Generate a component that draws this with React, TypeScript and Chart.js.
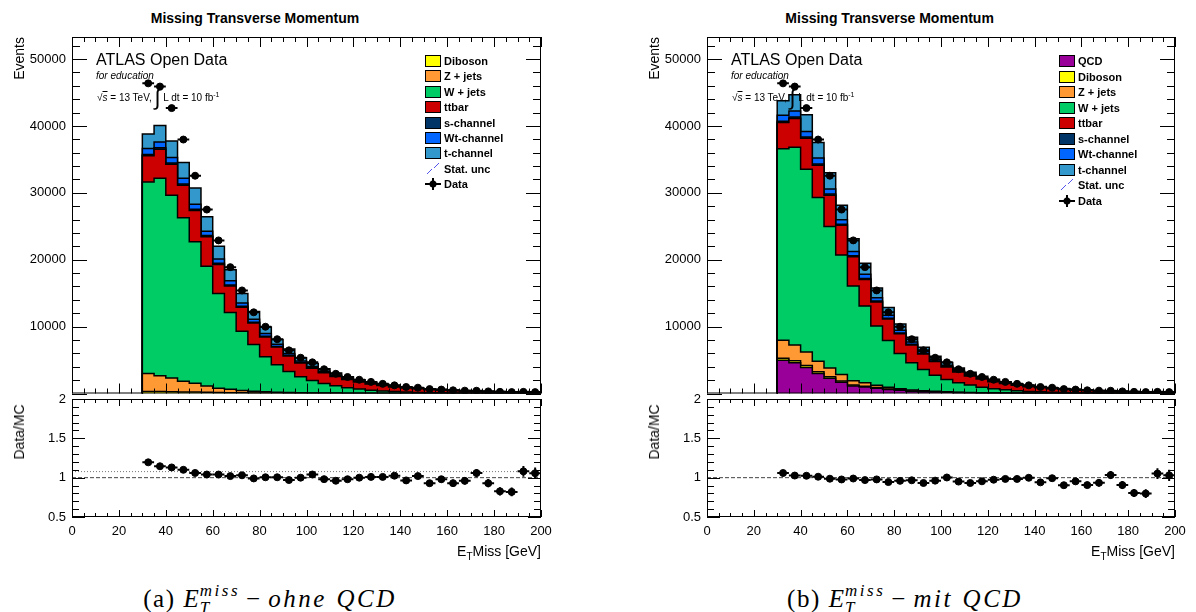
import React, { useEffect, useRef } from 'react';
import { Chart, registerables } from 'chart.js';

Chart.register(...registerables);

// ---------------- data ----------------
const binLow = [30, 35, 40, 45, 50, 55, 60, 65, 70, 75, 80, 85, 90, 95, 100, 105, 110, 115, 120, 125, 130, 135, 140, 145, 150, 155, 160, 165, 170, 175, 180, 185, 190, 195];
const binHalfWidth = 2.5;

const qcd = [4980, 4600, 3900, 3000, 2280, 1700, 1130, 970, 800, 600, 470, 320, 270, 210, 170, 120, 95, 70, 55, 45, 38, 32, 27, 23, 20, 17, 14, 12, 10, 9, 8, 7, 6, 5];
const diboson = [300, 290, 270, 240, 210, 180, 150, 130, 110, 90, 75, 60, 50, 40, 30, 25, 20, 18, 15, 12, 10, 9, 8, 7, 6, 5, 5, 4, 4, 3, 3, 3, 2, 2];
const zjets = [2700, 2370, 2050, 1580, 1310, 960, 630, 510, 330, 250, 175, 130, 100, 80, 60, 50, 40, 30, 25, 20, 18, 15, 12, 10, 9, 8, 7, 6, 5, 5, 4, 4, 3, 3];
const wjets = [28610, 29540, 27320, 24470, 21180, 17870, 14180, 11480, 8860, 7000, 5260, 4100, 3150, 2400, 1850, 1420, 1100, 830, 620, 470, 330, 260, 200, 150, 115, 90, 75, 62, 52, 44, 37, 31, 27, 23];
const ttbar = [3940, 4330, 4620, 4830, 4670, 4430, 4340, 3940, 3590, 3190, 2950, 2650, 2320, 2050, 1850, 1600, 1380, 1230, 1050, 930, 820, 695, 605, 525, 445, 382, 330, 287, 253, 222, 197, 171, 148, 128];
const schan = [190, 200, 190, 190, 190, 180, 170, 160, 150, 130, 115, 100, 88, 76, 66, 58, 50, 44, 38, 30, 27, 23, 20, 17, 15, 13, 11, 10, 9, 8, 7, 6, 5, 5];
const wtchan = [890, 890, 840, 890, 740, 650, 640, 640, 490, 440, 400, 330, 290, 220, 190, 170, 150, 118, 100, 85, 75, 63, 55, 48, 40, 34, 29, 26, 23, 20, 18, 15, 14, 12];
const tchan = [2170, 2460, 2470, 2320, 2420, 2170, 1900, 1660, 1430, 1160, 955, 710, 652, 484, 434, 377, 330, 250, 212, 173, 150, 125, 110, 93, 80, 68, 58, 50, 44, 38, 34, 30, 26, 22];
const dataCounts = [46370, 45890, 42670, 37970, 32560, 27500, 22890, 18890, 15410, 12140, 9980, 8120, 6450, 5350, 4660, 3630, 2950, 2470, 2060, 1737, 1444, 1220, 975, 867, 660, 588, 479, 427, 413, 316, 248, 213, 243, 206];

const xTicks = [0, 20, 40, 60, 80, 100, 120, 140, 160, 180, 200];
const mainYTicks = [10000, 20000, 30000, 40000, 50000];
const ratioYTicks = [0.5, 1, 1.5, 2];
const ratioRefLeft = [1, 1.077];
const ratioRefRight = [1];

const X_MIN = 0, X_MAX = 200;
const MAIN_Y_MAX = 53300;
const RATIO_MIN = 0.5, RATIO_MAX = 2;

const COLORS: Record<string, string> = {
  QCD: '#990099',
  Diboson: '#FFFF00',
  'Z + jets': '#FF9933',
  'W + jets': '#00CC66',
  ttbar: '#CC0000',
  's-channel': '#003366',
  'Wt-channel': '#0066FF',
  't-channel': '#3399CC',
};

const layersLeft = [
  { label: 'Diboson', values: diboson },
  { label: 'Z + jets', values: zjets },
  { label: 'W + jets', values: wjets },
  { label: 'ttbar', values: ttbar },
  { label: 's-channel', values: schan },
  { label: 'Wt-channel', values: wtchan },
  { label: 't-channel', values: tchan },
];
const layersRight = [{ label: 'QCD', values: qcd }, ...layersLeft];

// ---------------- layout ----------------
const MAIN_TOP = 37, MAIN_BOTTOM = 398, RATIO_TOP = 399, RATIO_BOTTOM = 517;
const Y_AXIS_W = 70;
const SANS = '"Liberation Sans", Arial, Helvetica, sans-serif';
const SERIF = '"Liberation Serif", "Times New Roman", serif';

// ---------------- plugins ----------------
const framePlugin = {
  id: 'rootFrame',
  afterDatasetsDraw(chart: any, _args: any, o: any) {
    const { ctx, chartArea: a, scales } = chart;
    const x = scales.x, y = scales.y;
    ctx.save();
    ctx.strokeStyle = '#000';
    ctx.lineWidth = 1;
    ctx.strokeRect(a.left + 0.5, a.top + 0.5, a.width - 1, a.height - 1);
    ctx.beginPath();
    const nx = Math.round((X_MAX - X_MIN) / o.xMinor);
    for (let i = 0; i <= nx; i++) {
      const v = X_MIN + i * o.xMinor;
      const major = Math.abs(v / o.xMajor - Math.round(v / o.xMajor)) < 1e-6;
      const L = major ? o.xMajLen : o.xMinLen;
      const px = Math.round(x.getPixelForValue(v)) + 0.5;
      ctx.moveTo(px, a.bottom); ctx.lineTo(px, a.bottom - L);
      ctx.moveTo(px, a.top); ctx.lineTo(px, a.top + L);
    }
    const ny = Math.round((y.max - o.yStart) / o.yMinor);
    for (let i = 0; i <= ny; i++) {
      const v = o.yStart + i * o.yMinor;
      if (v > y.max + 1e-9) break;
      const r = (v - o.yStart) / o.yMajor;
      const major = Math.abs(r - Math.round(r)) < 1e-6;
      const L = major ? o.yMajLen : o.yMinLen;
      const py = Math.round(y.getPixelForValue(v)) + 0.5;
      ctx.moveTo(a.left, py); ctx.lineTo(a.left + L, py);
      ctx.moveTo(a.right, py); ctx.lineTo(a.right - L, py);
    }
    ctx.stroke();
    ctx.restore();
  },
};

const errorBarPlugin = {
  id: 'errBars',
  afterDatasetsDraw(chart: any) {
    const { ctx, chartArea: a, scales } = chart;
    const x = scales.x, y = scales.y;
    ctx.save();
    ctx.beginPath();
    ctx.rect(a.left, a.top, a.width, a.height);
    ctx.clip();
    ctx.strokeStyle = '#000';
    ctx.lineWidth = 2;
    chart.data.datasets.forEach((ds: any) => {
      if (!ds.errorBars) return;
      ds.data.forEach((p: any) => {
        const px = x.getPixelForValue(p.x);
        const py = y.getPixelForValue(p.y);
        ctx.beginPath();
        ctx.moveTo(x.getPixelForValue(p.x - p.ex), py);
        ctx.lineTo(x.getPixelForValue(p.x + p.ex), py);
        ctx.moveTo(px, y.getPixelForValue(p.y - p.ey));
        ctx.lineTo(px, y.getPixelForValue(p.y + p.ey));
        ctx.stroke();
      });
    });
    ctx.restore();
  },
};

function buildStack(layers: { label: string; values: number[] }[]) {
  const cum = binLow.map(() => 0);
  const last = binLow.length - 1;
  const sets = layers.map((layer, i) => {
    layer.values.forEach((v, k) => { cum[k] += v; });
    const pts = [
      { x: binLow[0], y: 0 },
      ...binLow.map((lo, k) => ({ x: lo, y: cum[k] })),
      { x: binLow[last] + 2 * binHalfWidth, y: cum[last] },
    ];
    return {
      type: 'line',
      label: layer.label,
      data: pts,
      stepped: true,
      fill: i === 0 ? 'origin' : '-1',
      backgroundColor: COLORS[layer.label],
      borderColor: '#000',
      borderWidth: 1.5,
      pointRadius: 0,
      pointHoverRadius: 0,
      tension: 0,
      order: 10 + i,
    };
  });
  return { sets, total: cum.slice() };
}

const tickFont = { family: SANS, size: 13 };
const plainLabel = (v: any) => String(v);

function zeroPad(s: any) {
  s.paddingTop = 0; s.paddingBottom = 0; s.paddingLeft = 0; s.paddingRight = 0;
}

function mainConfig(layers: any[]) {
  const { sets } = buildStack(layers);
  const dataSet = {
    type: 'line',
    label: 'Data',
    showLine: false,
    errorBars: true,
    data: binLow.map((lo, k) => ({ x: lo + binHalfWidth, y: dataCounts[k], ex: binHalfWidth, ey: Math.sqrt(dataCounts[k]) })),
    pointRadius: 3.5,
    pointHoverRadius: 3.5,
    pointBackgroundColor: '#000',
    pointBorderColor: '#000',
    borderColor: '#000',
    order: 0,
  };
  return {
    type: 'line',
    data: { datasets: [...sets, dataSet] },
    options: {
      animation: false,
      responsive: false,
      devicePixelRatio: 1,
      events: [],
      layout: { padding: { top: 10, right: 12, bottom: 0, left: 0 } },
      plugins: {
        legend: { display: false },
        tooltip: { enabled: false },
        rootFrame: { xMinor: 5, xMajor: 20, xMajLen: 10, xMinLen: 5, yStart: 0, yMinor: 2000, yMajor: 10000, yMajLen: 15, yMinLen: 8 },
      },
      scales: {
        x: { type: 'linear', min: X_MIN, max: X_MAX, display: false },
        y: {
          type: 'linear', min: 0, max: MAIN_Y_MAX,
          grid: { display: false, drawTicks: false },
          border: { display: false },
          ticks: { font: tickFont, color: '#000', padding: 6, callback: plainLabel },
          afterBuildTicks: (s: any) => { s.ticks = mainYTicks.map((v) => ({ value: v })); },
          afterFit: (s: any) => { s.width = Y_AXIS_W; zeroPad(s); },
        },
      },
    },
    plugins: [framePlugin, errorBarPlugin],
  };
}

function ratioConfig(layers: any[], refs: number[]) {
  const { total } = buildStack(layers);
  const refSets = refs.map((v, i) => ({
    type: 'line',
    label: 'ref' + i,
    data: [{ x: X_MIN, y: v }, { x: X_MAX, y: v }],
    borderColor: i === 0 ? '#444' : '#777',
    borderWidth: 1,
    borderDash: i === 0 ? [4, 2] : [1, 2],
    pointRadius: 0,
    order: 5,
  }));
  const ratioSet = {
    type: 'line',
    label: 'ratio',
    showLine: false,
    errorBars: true,
    data: binLow.map((lo, k) => ({
      x: lo + binHalfWidth,
      y: dataCounts[k] / total[k],
      ex: binHalfWidth,
      ey: Math.sqrt(dataCounts[k]) / total[k],
    })),
    pointRadius: 3.5,
    pointHoverRadius: 3.5,
    pointBackgroundColor: '#000',
    pointBorderColor: '#000',
    borderColor: '#000',
    order: 0,
  };
  return {
    type: 'line',
    data: { datasets: [...refSets, ratioSet] },
    options: {
      animation: false,
      responsive: false,
      devicePixelRatio: 1,
      events: [],
      layout: { padding: { top: 9, right: 16, bottom: 0, left: 0 } },
      plugins: {
        legend: { display: false },
        tooltip: { enabled: false },
        rootFrame: { xMinor: 5, xMajor: 20, xMajLen: 7, xMinLen: 4, yStart: 0.5, yMinor: 0.1, yMajor: 0.5, yMajLen: 13, yMinLen: 7 },
      },
      scales: {
        x: {
          type: 'linear', min: X_MIN, max: X_MAX,
          grid: { display: false, drawTicks: false },
          border: { display: false },
          ticks: { font: tickFont, color: '#000', padding: 7, autoSkip: false, maxRotation: 0, callback: plainLabel },
          afterBuildTicks: (s: any) => { s.ticks = xTicks.map((v) => ({ value: v })); },
          afterFit: (s: any) => { s.height = 30; zeroPad(s); },
        },
        y: {
          type: 'linear', min: RATIO_MIN, max: RATIO_MAX,
          grid: { display: false, drawTicks: false },
          border: { display: false },
          ticks: { font: tickFont, color: '#000', padding: 6, callback: plainLabel },
          afterBuildTicks: (s: any) => { s.ticks = ratioYTicks.map((v) => ({ value: v })); },
          afterFit: (s: any) => { s.width = Y_AXIS_W; zeroPad(s); },
        },
      },
    },
    plugins: [framePlugin, errorBarPlugin],
  };
}

// ---------------- components ----------------
function Txt({ x, y, align = 'left', style, children }: any) {
  const tx = align === 'left' ? '0' : align === 'center' ? '-50%' : '-100%';
  return (
    <div style={{ position: 'absolute', left: x, top: y, transform: `translate(${tx}, -50%)`, whiteSpace: 'nowrap', lineHeight: 1, ...style }}>
      {children}
    </div>
  );
}

function LegendIcon({ label }: { label: string }) {
  if (label === 'Stat. unc') {
    return (
      <svg width={16} height={12} style={{ position: 'absolute', left: 0, top: -6 }}>
        <line x1={2} y1={11} x2={7} y2={6} stroke="#5555ee" strokeWidth={1} />
        <line x1={9} y1={5} x2={14} y2={0} stroke="#5555ee" strokeWidth={1} />
      </svg>
    );
  }
  if (label === 'Data') {
    return (
      <svg width={16} height={12} style={{ position: 'absolute', left: 0, top: -6 }}>
        <line x1={0} y1={6} x2={16} y2={6} stroke="#000" strokeWidth={2} />
        <line x1={8} y1={0} x2={8} y2={12} stroke="#000" strokeWidth={2} />
        <circle cx={8} cy={6} r={3.5} fill="#000" />
      </svg>
    );
  }
  return (
    <div style={{ position: 'absolute', left: 0, top: -6, width: 16, height: 12, boxSizing: 'border-box', border: '1.5px solid #000', background: COLORS[label] }} />
  );
}

function Legend({ x, y0, dy, entries }: { x: number; y0: number; dy: number; entries: string[] }) {
  return (
    <>
      {entries.map((e, i) => (
        <div key={e} style={{ position: 'absolute', left: x, top: y0 + i * dy }}>
          <LegendIcon label={e} />
          <div style={{ position: 'absolute', left: 19, top: 0, transform: 'translateY(-50%)', fontFamily: SANS, fontWeight: 'bold', fontSize: 11, lineHeight: 1, whiteSpace: 'nowrap' }}>{e}</div>
        </div>
      ))}
    </>
  );
}

function Caption({ x, letter, text }: any) {
  return (
    <Txt x={x} y={599} align="center" style={{ fontFamily: SERIF, fontSize: 25, lineHeight: 1.2 }}>
      <span style={{ letterSpacing: 1.5 }}>({letter})</span>
      <span style={{ display: 'inline-block', width: 8 }} />
      <i>E</i>
      <span style={{ display: 'inline-block', verticalAlign: -6, lineHeight: 1, fontStyle: 'italic', fontSize: 17, textAlign: 'left', marginLeft: 1, letterSpacing: 2.5 }}>
        <span style={{ display: 'block' }}>miss</span>
        <span style={{ display: 'block' }}>T</span>
      </span>
      <span style={{ display: 'inline-block', margin: '0 8px 0 6px' }}>−</span>
      <i style={{ letterSpacing: 2.5, wordSpacing: 1 }}>{text}</i>
    </Txt>
  );
}

function Panel({ x0, x1, layers, refs, legend, legendY0, legendDy, captionX, captionLetter, captionText }: any) {
  const mainRef = useRef<HTMLCanvasElement>(null);
  const ratioRef = useRef<HTMLCanvasElement>(null);
  const w = x1 - x0;
  const mainW = Y_AXIS_W + w + 12, mainH = 10 + (MAIN_BOTTOM - MAIN_TOP);
  const ratioW = Y_AXIS_W + w + 16, ratioH = 9 + (RATIO_BOTTOM - RATIO_TOP) + 30;

  useEffect(() => {
    const c1 = new Chart(mainRef.current as HTMLCanvasElement, mainConfig(layers) as any);
    const c2 = new Chart(ratioRef.current as HTMLCanvasElement, ratioConfig(layers, refs) as any);
    return () => { c1.destroy(); c2.destroy(); };
  }, []);

  const titleCx = x0 + (w * 183) / 469;

  return (
    <>
      <canvas ref={mainRef} width={mainW} height={mainH}
        style={{ position: 'absolute', left: x0 - Y_AXIS_W, top: MAIN_TOP - 10, width: mainW, height: mainH }} />
      <canvas ref={ratioRef} width={ratioW} height={ratioH}
        style={{ position: 'absolute', left: x0 - Y_AXIS_W, top: RATIO_TOP - 9, width: ratioW, height: ratioH }} />

      <Txt x={titleCx} y={18} align="center" style={{ fontFamily: SANS, fontWeight: 'bold', fontSize: 14 }}>
        Missing Transverse Momentum
      </Txt>

      <Txt x={x0 + 24} y={60} style={{ fontFamily: SANS, fontSize: 16 }}>ATLAS Open Data</Txt>
      <Txt x={x0 + 24} y={76} style={{ fontFamily: SANS, fontSize: 10, fontStyle: 'italic' }}>for education</Txt>
      <Txt x={x0 + 25} y={98} style={{ fontFamily: SANS, fontSize: 10 }}>
        <span>√<span style={{ textDecoration: 'overline', fontStyle: 'italic' }}>s</span> = 13 TeV, </span>
        <span style={{ fontSize: 22, verticalAlign: -4 }}>∫</span>
        <span> L dt = 10 fb<sup style={{ fontSize: 7 }}>-1</sup></span>
      </Txt>

      <Legend x={legend.x} y0={legendY0} dy={legendDy} entries={legend.entries} />

      <div style={{ position: 'absolute', left: x0 - 60, top: MAIN_TOP, writingMode: 'vertical-rl', transform: 'rotate(180deg)', fontFamily: SANS, fontSize: 14, lineHeight: '14px', whiteSpace: 'nowrap' }}>Events</div>
      <div style={{ position: 'absolute', left: x0 - 60, top: 432, writingMode: 'vertical-rl', transform: 'translateY(-50%) rotate(180deg)', fontFamily: SANS, fontSize: 14, lineHeight: '14px', whiteSpace: 'nowrap' }}>Data/MC</div>

      <Txt x={x1} y={551} align="right" style={{ fontFamily: SANS, fontSize: 14 }}>
        E<span style={{ fontSize: 10, position: 'relative', top: 4 }}>T</span>Miss [GeV]
      </Txt>

      <Caption x={captionX} letter={captionLetter} text={captionText} />
    </>
  );
}

export default function App() {
  return (
    <div style={{ position: 'absolute', left: 0, top: 0, width: 1196, height: 612, background: '#fff', color: '#000', overflow: 'hidden' }}>
      <Panel
        x0={72} x1={541}
        layers={layersLeft}
        refs={ratioRefLeft}
        legend={{ x: 425, entries: ['Diboson', 'Z + jets', 'W + jets', 'ttbar', 's-channel', 'Wt-channel', 't-channel', 'Stat. unc', 'Data'] }}
        legendY0={61} legendDy={15.4}
        captionX={270} captionLetter="a" captionText="ohne QCD"
      />
      <Panel
        x0={707} x1={1175}
        layers={layersRight}
        refs={ratioRefRight}
        legend={{ x: 1059, entries: ['QCD', 'Diboson', 'Z + jets', 'W + jets', 'ttbar', 's-channel', 'Wt-channel', 't-channel', 'Stat. unc', 'Data'] }}
        legendY0={61} legendDy={15.5}
        captionX={905} captionLetter="b" captionText="mit QCD"
      />
    </div>
  );
}
